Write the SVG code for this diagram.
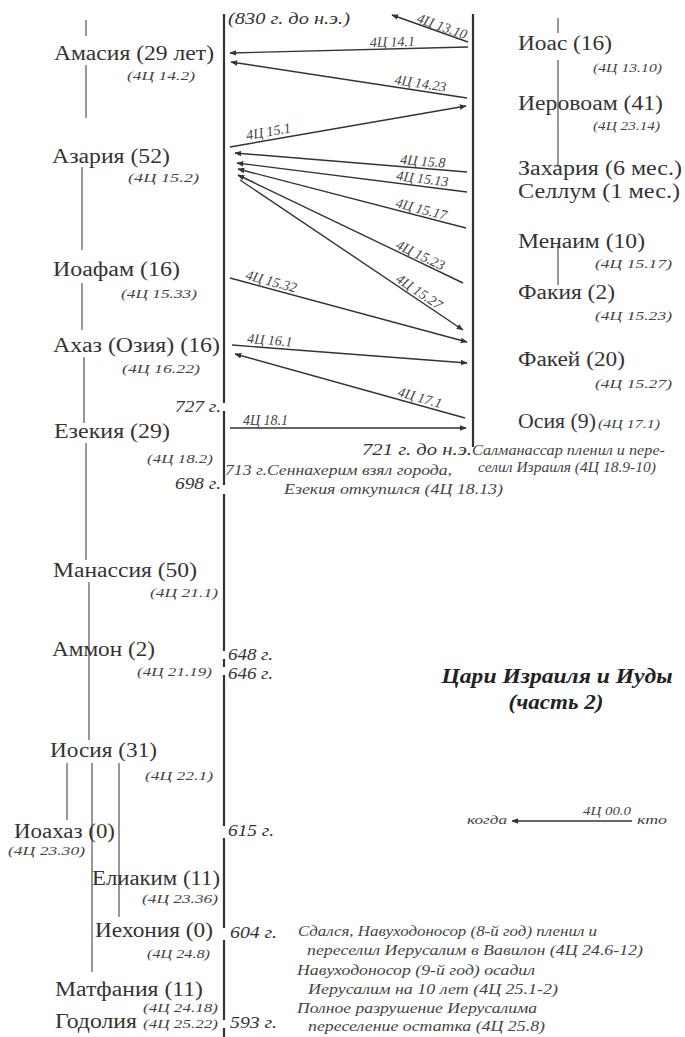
<svg xmlns="http://www.w3.org/2000/svg" width="685" height="1037" viewBox="0 0 685 1037">
<defs>
<marker id="ah" viewBox="0 0 10 10" refX="9" refY="5" markerWidth="7" markerHeight="7" markerUnits="userSpaceOnUse" orient="auto">
<path d="M0,1 L10,5 L0,9 z" fill="#333"/>
</marker>
<style>
.n{font-family:"Liberation Serif",serif;font-size:20px;fill:#333}
.r{font-family:"Liberation Serif",serif;font-size:13px;font-style:italic;fill:#444}
.y{font-family:"Liberation Serif",serif;font-size:17px;font-style:italic;fill:#333}
.e{font-family:"Liberation Serif",serif;font-size:14px;font-style:italic;fill:#444}
.al{font-family:"Liberation Serif",serif;font-size:14px;font-style:italic;fill:#444}
.t{font-family:"Liberation Serif",serif;font-size:21px;font-style:italic;font-weight:bold;fill:#222}
.tl{stroke:#333;stroke-width:2.2;fill:none}
.k{stroke:#777;stroke-width:1.5;fill:none}
.a{stroke:#333;stroke-width:1.4;fill:none;marker-end:url(#ah)}
</style>
</defs>
<rect width="685" height="1037" fill="#fff"/>

<g id="timelines">
<path class="tl" d="M224,14 V403 M224,411 V485 M224,494 V651 M224,659 V667 M224,675 V826 M224,838 V928 M224,940 V1020 M224,1028 V1037"/>
<path class="tl" d="M473,14 V447"/>
</g>

<g id="kinship">
<path class="k" d="M86,20 V36 M86,65 V118 M82,167 V250 M82,283 V330 M84,357 V423 M86,443 V560 M89,582 V740 M67,763 V820 M92,763 V972 M119,763 V917"/>
<path class="k" d="M558,18 V33 M558,60 V167 M558,245 V285"/>
</g>

<g id="years">
<text class="y" x="228" y="24" textLength="122" lengthAdjust="spacingAndGlyphs">(830 г. до н.э.)</text>
<text class="y" x="221" y="412" text-anchor="end" textLength="46" lengthAdjust="spacingAndGlyphs">727 г.</text>
<text class="y" x="221" y="489" text-anchor="end" textLength="46" lengthAdjust="spacingAndGlyphs">698 г.</text>
<text class="y" x="228" y="660" font-size="16" textLength="45" lengthAdjust="spacingAndGlyphs">648 г.</text>
<text class="y" x="228" y="679" font-size="16" textLength="45" lengthAdjust="spacingAndGlyphs">646 г.</text>
<text class="y" x="228" y="836" textLength="46" lengthAdjust="spacingAndGlyphs">615 г.</text>
<text class="y" x="230" y="938" textLength="47" lengthAdjust="spacingAndGlyphs">604 г.</text>
<text class="y" x="230" y="1028" textLength="47" lengthAdjust="spacingAndGlyphs">593 г.</text>
</g>

<g id="judah">
<g id="amasia"><text class="n" x="54" y="60" textLength="160" lengthAdjust="spacingAndGlyphs">Амасия (29 лет)</text><text class="r" x="127" y="80" textLength="68" lengthAdjust="spacingAndGlyphs">(4Ц 14.2)</text></g>
<g id="azaria"><text class="n" x="52" y="163" textLength="118" lengthAdjust="spacingAndGlyphs">Азария (52)</text><text class="r" x="128" y="182" textLength="71" lengthAdjust="spacingAndGlyphs">(4Ц 15.2)</text></g>
<g id="ioafam"><text class="n" x="53" y="276" textLength="127" lengthAdjust="spacingAndGlyphs">Иоафам (16)</text><text class="r" x="121" y="298" textLength="76" lengthAdjust="spacingAndGlyphs">(4Ц 15.33)</text></g>
<g id="ahaz"><text class="n" x="53" y="352" textLength="167" lengthAdjust="spacingAndGlyphs">Ахаз (Озия) (16)</text><text class="r" x="122" y="373" textLength="78" lengthAdjust="spacingAndGlyphs">(4Ц 16.22)</text></g>
<g id="ezekia"><text class="n" x="54" y="438" textLength="116" lengthAdjust="spacingAndGlyphs">Езекия (29)</text><text class="r" x="147" y="463" textLength="66" lengthAdjust="spacingAndGlyphs">(4Ц 18.2)</text></g>
<g id="manassia"><text class="n" x="53" y="577" textLength="144" lengthAdjust="spacingAndGlyphs">Манассия (50)</text><text class="r" x="150" y="597" textLength="68" lengthAdjust="spacingAndGlyphs">(4Ц 21.1)</text></g>
<g id="ammon"><text class="n" x="52" y="656" textLength="103" lengthAdjust="spacingAndGlyphs">Аммон (2)</text><text class="r" x="137" y="676" textLength="75" lengthAdjust="spacingAndGlyphs">(4Ц 21.19)</text></g>
<g id="iosia"><text class="n" x="50" y="757" textLength="107" lengthAdjust="spacingAndGlyphs">Иосия (31)</text><text class="r" x="145" y="780" textLength="68" lengthAdjust="spacingAndGlyphs">(4Ц 22.1)</text></g>
<g id="ioahaz"><text class="n" x="14" y="838" textLength="101" lengthAdjust="spacingAndGlyphs">Иоахаз (0)</text><text class="r" x="8" y="855" textLength="77" lengthAdjust="spacingAndGlyphs">(4Ц 23.30)</text></g>
<g id="eliakim"><text class="n" x="92" y="885" textLength="128" lengthAdjust="spacingAndGlyphs">Елиаким (11)</text><text class="r" x="142" y="903" textLength="76" lengthAdjust="spacingAndGlyphs">(4Ц 23.36)</text></g>
<g id="iehonia"><text class="n" x="95" y="937" textLength="118" lengthAdjust="spacingAndGlyphs">Иехония (0)</text><text class="r" x="147" y="958" textLength="63" lengthAdjust="spacingAndGlyphs">(4Ц 24.8)</text></g>
<g id="matfania"><text class="n" x="55" y="996" textLength="148" lengthAdjust="spacingAndGlyphs">Матфания (11)</text><text class="r" x="143" y="1012" textLength="75" lengthAdjust="spacingAndGlyphs">(4Ц 24.18)</text></g>
<g id="godolia"><text class="n" x="55" y="1028" textLength="82" lengthAdjust="spacingAndGlyphs">Годолия</text><text class="r" x="143" y="1028" textLength="75" lengthAdjust="spacingAndGlyphs">(4Ц 25.22)</text></g>
</g>

<g id="israel">
<g id="ioas"><text class="n" x="518" y="50" textLength="94" lengthAdjust="spacingAndGlyphs">Иоас (16)</text><text class="r" x="593" y="72" textLength="69" lengthAdjust="spacingAndGlyphs">(4Ц 13.10)</text></g>
<g id="ierovoam"><text class="n" x="518" y="110" textLength="145" lengthAdjust="spacingAndGlyphs">Иеровоам (41)</text><text class="r" x="593" y="130" textLength="67" lengthAdjust="spacingAndGlyphs">(4Ц 23.14)</text></g>
<g id="zaharia"><text class="n" x="518" y="175" textLength="164" lengthAdjust="spacingAndGlyphs">Захария (6 мес.)</text></g>
<g id="sellum"><text class="n" x="518" y="198" textLength="162" lengthAdjust="spacingAndGlyphs">Селлум (1 мес.)</text></g>
<g id="menaim"><text class="n" x="518" y="248" textLength="127" lengthAdjust="spacingAndGlyphs">Менаим (10)</text><text class="r" x="595" y="268" textLength="77" lengthAdjust="spacingAndGlyphs">(4Ц 15.17)</text></g>
<g id="fakia"><text class="n" x="518" y="299" textLength="97" lengthAdjust="spacingAndGlyphs">Факия (2)</text><text class="r" x="595" y="320" textLength="77" lengthAdjust="spacingAndGlyphs">(4Ц 15.23)</text></g>
<g id="fakei"><text class="n" x="518" y="366" textLength="107" lengthAdjust="spacingAndGlyphs">Факей (20)</text><text class="r" x="595" y="388" textLength="77" lengthAdjust="spacingAndGlyphs">(4Ц 15.27)</text></g>
<g id="osia"><text class="n" x="518" y="428" textLength="78" lengthAdjust="spacingAndGlyphs">Осия (9)</text><text class="r" x="598" y="428" textLength="62" lengthAdjust="spacingAndGlyphs">(4Ц 17.1)</text></g>
</g>

<g id="connectors">
<path class="a" d="M468,42 L392,15"/>
<path class="a" d="M468,47 L230,53"/>
<path class="a" d="M467,98 L231,62"/>
<path class="a" d="M230,147 L466,106"/>
<path class="a" d="M467,172 L235,153"/>
<path class="a" d="M467,192 L237,163"/>
<path class="a" d="M466,228 L238,169"/>
<path class="a" d="M463,283 L238,175"/>
<path class="a" d="M240,180 L463,330"/>
<path class="a" d="M230,278 L467,342"/>
<path class="a" d="M232,345 L467,363"/>
<path class="a" d="M465,418 L235,354"/>
<path class="a" d="M230,428 L466,428"/>
<text class="al" transform="translate(416,22) rotate(19.5)">4Ц 13.10</text>
<text class="al" transform="translate(370,47) rotate(-1.4)">4Ц 14.1</text>
<text class="al" transform="translate(394,84) rotate(8.7)">4Ц 14.23</text>
<text class="al" transform="translate(247,140) rotate(-9.9)">4Ц 15.1</text>
<text class="al" transform="translate(400,164) rotate(4.7)">4Ц 15.8</text>
<text class="al" transform="translate(396,180) rotate(7.2)">4Ц 15.13</text>
<text class="al" transform="translate(395,207) rotate(14.5)">4Ц 15.17</text>
<text class="al" transform="translate(395,248) rotate(25.6)">4Ц 15.23</text>
<text class="al" transform="translate(395,281) rotate(33.9)">4Ц 15.27</text>
<text class="al" transform="translate(245,279) rotate(15.1)">4Ц 15.32</text>
<text class="al" transform="translate(247,343) rotate(4.4)">4Ц 16.1</text>
<text class="al" transform="translate(397,396) rotate(15.5)">4Ц 17.1</text>
<text class="al" x="243" y="425">4Ц 18.1</text>
</g>

<g id="events">
<text class="y" x="362" y="455" textLength="110" lengthAdjust="spacingAndGlyphs">721 г. до н.э.</text>
<text class="e" x="472" y="455" font-size="13" textLength="193" lengthAdjust="spacingAndGlyphs">Салманассар пленил и пере-</text>
<text class="e" x="478" y="472" font-size="13" textLength="178" lengthAdjust="spacingAndGlyphs">селил Израиля (4Ц 18.9-10)</text>
<text class="e" x="225" y="475" textLength="227" lengthAdjust="spacingAndGlyphs">713 г.Сеннахерим взял города,</text>
<text class="e" x="284" y="494" textLength="219" lengthAdjust="spacingAndGlyphs">Езекия откупился (4Ц 18.13)</text>
<text class="e" x="298" y="936" textLength="299" lengthAdjust="spacingAndGlyphs">Сдался, Навуходоносор (8-й год) пленил и</text>
<text class="e" x="307" y="955" textLength="336" lengthAdjust="spacingAndGlyphs">переселил Иерусалим в Вавилон (4Ц 24.6-12)</text>
<text class="e" x="297" y="975" textLength="238" lengthAdjust="spacingAndGlyphs">Навуходоносор (9-й год) осадил</text>
<text class="e" x="308" y="994" textLength="250" lengthAdjust="spacingAndGlyphs">Иерусалим на 10 лет (4Ц 25.1-2)</text>
<text class="e" x="297" y="1013" textLength="240" lengthAdjust="spacingAndGlyphs">Полное разрушение Иерусалима</text>
<text class="e" x="308" y="1031" textLength="237" lengthAdjust="spacingAndGlyphs">переселение остатка (4Ц 25.8)</text>
</g>

<g id="title">
<text class="t" x="557" y="683" text-anchor="middle" textLength="231" lengthAdjust="spacingAndGlyphs">Цари Израиля и Иуды</text>
<text class="t" x="556" y="709" text-anchor="middle" textLength="95" lengthAdjust="spacingAndGlyphs">(часть 2)</text>
</g>

<g id="legend">
<text class="r" x="467" y="824" textLength="40" lengthAdjust="spacingAndGlyphs">когда</text>
<path class="a" d="M632,821 L512,821"/>
<text class="r" x="583" y="815" font-size="10" textLength="48" lengthAdjust="spacingAndGlyphs">4Ц 00.0</text>
<text class="r" x="637" y="824" textLength="30" lengthAdjust="spacingAndGlyphs">кто</text>
</g>
</svg>
